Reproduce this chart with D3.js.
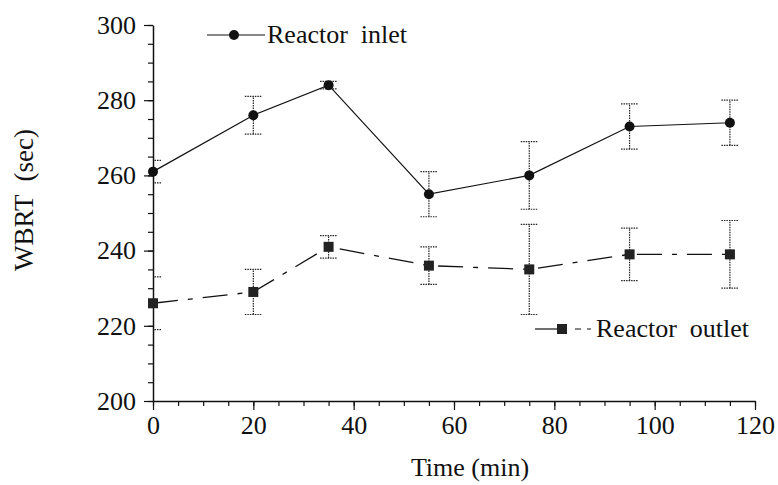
<!DOCTYPE html>
<html>
<head>
<meta charset="utf-8">
<script src="https://cdn.jsdelivr.net/npm/d3@7"></script>
<style>
  body { margin: 0; background: #fff; }
</style>
</head>
<body>
<div id="chart"></div>
<script>
const times = [0, 20, 35, 55, 75, 95, 115];
const inletMean = [261, 276, 284, 255, 260, 273, 274];
const inletErr = [3, 5, 1, 6, 9, 6, 6];
const outletMean = [226, 229, 241, 236, 235, 239, 239];
const outletErr = [7, 6, 3, 5, 12, 7, 9];
const xTicks = [0, 20, 40, 60, 80, 100, 120];
const yTicks = [200, 220, 240, 260, 280, 300];

const serif = "'Liberation Serif', 'Times New Roman', serif";
const width = 778, height = 485;
const margin = { left: 153, right: 23, top: 25, bottom: 84 };

const svg = d3.select("#chart").append("svg")
    .attr("width", width)
    .attr("height", height);

const x = d3.scaleLinear().domain([0, 120]).range([margin.left, width - margin.right]);
const y = d3.scaleLinear().domain([200, 300]).range([height - margin.bottom, margin.top]);

svg.append("clipPath").attr("id", "plotClip")
    .append("rect")
    .attr("x", x(0) + 1).attr("y", 0)
    .attr("width", width).attr("height", height);

// minor ticks
svg.append("g")
    .attr("transform", `translate(0,${y(200)})`)
    .call(d3.axisBottom(x).tickValues(d3.range(0, 121, 5)).tickSize(5).tickFormat(""))
    .call(g => g.select(".domain").remove());
svg.append("g")
    .attr("transform", `translate(${x(0)},0)`)
    .call(d3.axisLeft(y).tickValues(d3.range(200, 301, 5)).tickSize(5).tickFormat(""))
    .call(g => g.select(".domain").remove());

// major axes
const xAxis = svg.append("g")
    .attr("transform", `translate(0,${y(200)})`)
    .call(d3.axisBottom(x).tickValues(xTicks).tickSize(9).tickSizeOuter(0).tickPadding(6));
const yAxis = svg.append("g")
    .attr("transform", `translate(${x(0)},0)`)
    .call(d3.axisLeft(y).tickValues(yTicks).tickSize(9).tickSizeOuter(0).tickPadding(8));

[xAxis, yAxis].forEach(g => {
    g.attr("font-family", serif).attr("font-size", 26);
    g.selectAll("path.domain").attr("stroke", "#111").attr("stroke-width", 1.5);
    g.selectAll(".tick text").attr("fill", "#111");
});
svg.selectAll(".tick line").attr("stroke", "#111").attr("stroke-width", 1.2);

// axis titles
svg.append("text")
    .attr("x", 470)
    .attr("y", 476)
    .attr("text-anchor", "middle")
    .attr("font-family", serif)
    .attr("font-size", 26)
    .attr("fill", "#111")
    .text("Time (min)");

svg.append("text")
    .attr("transform", "translate(33,200) rotate(-90)")
    .attr("text-anchor", "middle")
    .attr("font-family", serif)
    .attr("font-size", 27)
    .attr("fill", "#111")
    .style("white-space", "pre")
    .text("WBRT  (sec)");

const inlet = times.map((t, i) => ({ t, v: inletMean[i], e: inletErr[i] }));
const outlet = times.map((t, i) => ({ t, v: outletMean[i], e: outletErr[i] }));

const line = d3.line().x(d => x(d.t)).y(d => y(d.v));

function drawErrors(data) {
    const g = svg.append("g")
        .attr("clip-path", "url(#plotClip)")
        .attr("stroke", "#222")
        .attr("stroke-width", 1.2)
        .attr("stroke-dasharray", "1.5,1");
    const cap = 8.5;
    data.forEach(d => {
        g.append("line")
            .attr("x1", x(d.t)).attr("x2", x(d.t))
            .attr("y1", y(d.v - d.e)).attr("y2", y(d.v + d.e));
        [d.v - d.e, d.v + d.e].forEach(v => {
            g.append("line")
                .attr("x1", x(d.t) - cap).attr("x2", x(d.t) + cap)
                .attr("y1", y(v)).attr("y2", y(v));
        });
    });
}

drawErrors(inlet);
drawErrors(outlet);

svg.append("path")
    .datum(inlet)
    .attr("d", line)
    .attr("fill", "none")
    .attr("stroke", "#111")
    .attr("stroke-width", 1.2);

svg.append("path")
    .datum(outlet)
    .attr("d", line)
    .attr("fill", "none")
    .attr("stroke", "#111")
    .attr("stroke-width", 1.3)
    .attr("stroke-dasharray", "25,10,5,10");

svg.append("g").selectAll("circle")
    .data(inlet)
    .join("circle")
    .attr("cx", d => x(d.t))
    .attr("cy", d => y(d.v))
    .attr("r", 5)
    .attr("fill", "#111");

svg.append("g").selectAll("rect")
    .data(outlet)
    .join("rect")
    .attr("x", d => x(d.t) - 5)
    .attr("y", d => y(d.v) - 5)
    .attr("width", 10)
    .attr("height", 10)
    .attr("fill", "#222");

// legend
const legInlet = svg.append("g");
legInlet.append("line")
    .attr("x1", 207).attr("x2", 265).attr("y1", 35).attr("y2", 35)
    .attr("stroke", "#111").attr("stroke-width", 1.2);
legInlet.append("circle").attr("cx", 234).attr("cy", 35).attr("r", 5).attr("fill", "#111");
legInlet.append("text")
    .attr("x", 267).attr("y", 43)
    .attr("font-family", serif)
    .attr("font-size", 26)
    .attr("fill", "#111")
    .style("white-space", "pre")
    .text("Reactor  inlet");

const legOutlet = svg.append("g");
legOutlet.append("line")
    .attr("x1", 535).attr("x2", 562).attr("y1", 329).attr("y2", 329)
    .attr("stroke", "#111").attr("stroke-width", 1.2);
legOutlet.append("line")
    .attr("x1", 562).attr("x2", 594).attr("y1", 329).attr("y2", 329)
    .attr("stroke", "#111").attr("stroke-width", 1.2)
    .attr("stroke-dasharray", "0,13,6,6,4,10");
legOutlet.append("rect").attr("x", 557).attr("y", 324).attr("width", 10).attr("height", 10).attr("fill", "#222");
legOutlet.append("text")
    .attr("x", 596).attr("y", 337)
    .attr("font-family", serif)
    .attr("font-size", 26)
    .attr("fill", "#111")
    .style("white-space", "pre")
    .text("Reactor  outlet");
</script>
</body>
</html>
